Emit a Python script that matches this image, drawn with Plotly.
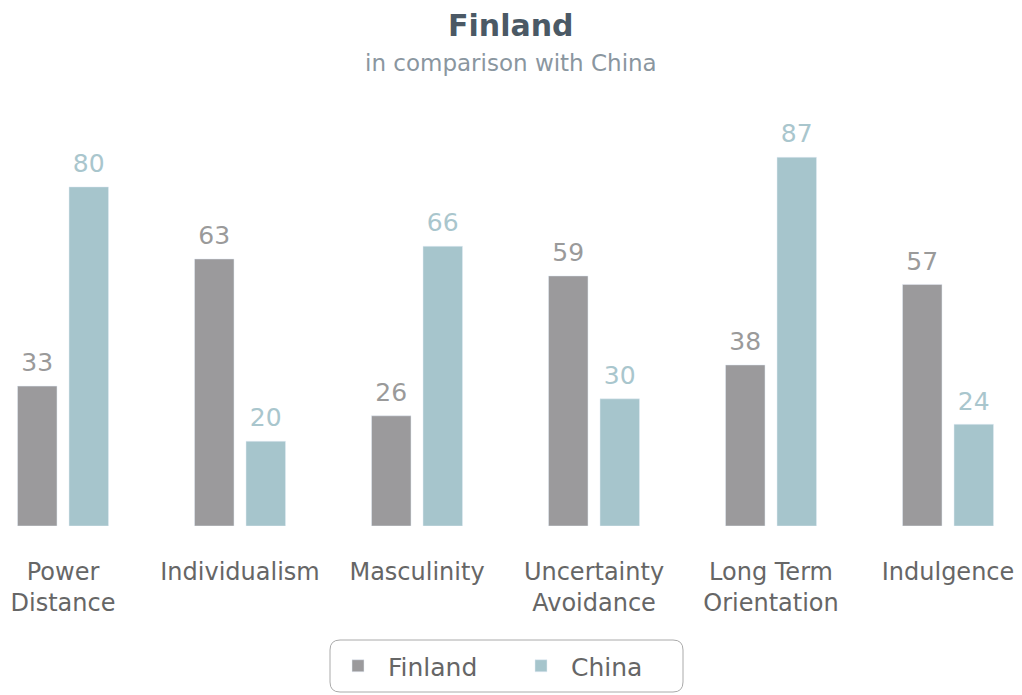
import plotly.graph_objects as go

categories = ["Power<br>Distance", "Individualism", "Masculinity",
              "Uncertainty<br>Avoidance", "Long Term<br>Orientation", "Indulgence"]
finland = [33, 63, 26, 59, 38, 57]
china = [80, 20, 66, 30, 87, 24]

FIN_COLOR = "#9b9a9c"
CHN_COLOR = "#a6c5cc"
FIN_TEXT = "#9a9a9a"
CHN_TEXT = "#a9c6cd"
FONT = "DejaVu Sans"
W, H = 1022, 695
T, B = 100, 169
PLOT_H = H - T - B

fig = go.Figure()
fig.add_trace(go.Bar(x=categories, y=finland, name="Finland",
                     marker_color=FIN_COLOR, hoverinfo="x+y"))
fig.add_trace(go.Bar(x=categories, y=china, name="China",
                     marker_color=CHN_COLOR, hoverinfo="x+y"))

# value labels (grouped scatter so they sit over each bar)
for vals, col in ((finland, FIN_TEXT), (china, CHN_TEXT)):
    fig.add_trace(go.Scatter(
        x=categories, y=vals, mode="markers+text", text=vals,
        textposition="top center", cliponaxis=False,
        marker=dict(size=12, opacity=0), showlegend=False, hoverinfo="skip",
        textfont=dict(color=col, size=25, family=FONT),
    ))

fig.update_layout(
    width=W, height=H,
    paper_bgcolor="white", plot_bgcolor="white",
    margin=dict(l=0, r=0, t=T, b=B),
    barmode="group", bargap=0.418, bargroupgap=0.233,
    scattermode="group", scattergap=0.418,
    font=dict(family=FONT, color="#666666"),
    xaxis=dict(range=[-0.356, 5.418], showgrid=False, showline=False,
               zeroline=False, ticks="", tickfont=dict(size=24, color="#666666"),
               ticklabelstandoff=29, fixedrange=True),
    yaxis=dict(range=[0, 100.5], visible=False, fixedrange=True),
    showlegend=True,
    legend=dict(orientation="h", x=0.5, xanchor="center",
                y=(526 - 666) / PLOT_H, yanchor="middle",
                font=dict(size=25, color="#666666"),
                itemwidth=50, entrywidth=118, entrywidthmode="pixels",
                bgcolor="rgba(0,0,0,0)"),
    annotations=[
        dict(text="<b>Finland</b>", xref="paper", yref="paper",
             x=0.5, xanchor="center", y=(526 - 26) / PLOT_H, yanchor="middle",
             showarrow=False, font=dict(size=30, color="#4b5965", family=FONT)),
        dict(text="in comparison with China", xref="paper", yref="paper",
             x=0.5, xanchor="center", y=(526 - 63) / PLOT_H, yanchor="middle",
             showarrow=False, font=dict(size=23, color="#8a969f", family=FONT)),
    ],
)


def px_x(px):
    return px / W


def px_y(py):
    return (526 - py) / PLOT_H


x0, x1, y0, y1, r = 330, 683, 640, 692, 10
path = (
    f"M {px_x(x0 + r)},{px_y(y0)} L {px_x(x1 - r)},{px_y(y0)} "
    f"Q {px_x(x1)},{px_y(y0)} {px_x(x1)},{px_y(y0 + r)} "
    f"L {px_x(x1)},{px_y(y1 - r)} "
    f"Q {px_x(x1)},{px_y(y1)} {px_x(x1 - r)},{px_y(y1)} "
    f"L {px_x(x0 + r)},{px_y(y1)} "
    f"Q {px_x(x0)},{px_y(y1)} {px_x(x0)},{px_y(y1 - r)} "
    f"L {px_x(x0)},{px_y(y0 + r)} "
    f"Q {px_x(x0)},{px_y(y0)} {px_x(x0 + r)},{px_y(y0)} Z"
)
fig.add_shape(type="path", path=path, xref="paper", yref="paper",
              line=dict(color="#aaaaaa", width=1), layer="below")

fig.write_html("out.html", config={"displayModeBar": False},
               post_script="document.body.style.margin='0';")
